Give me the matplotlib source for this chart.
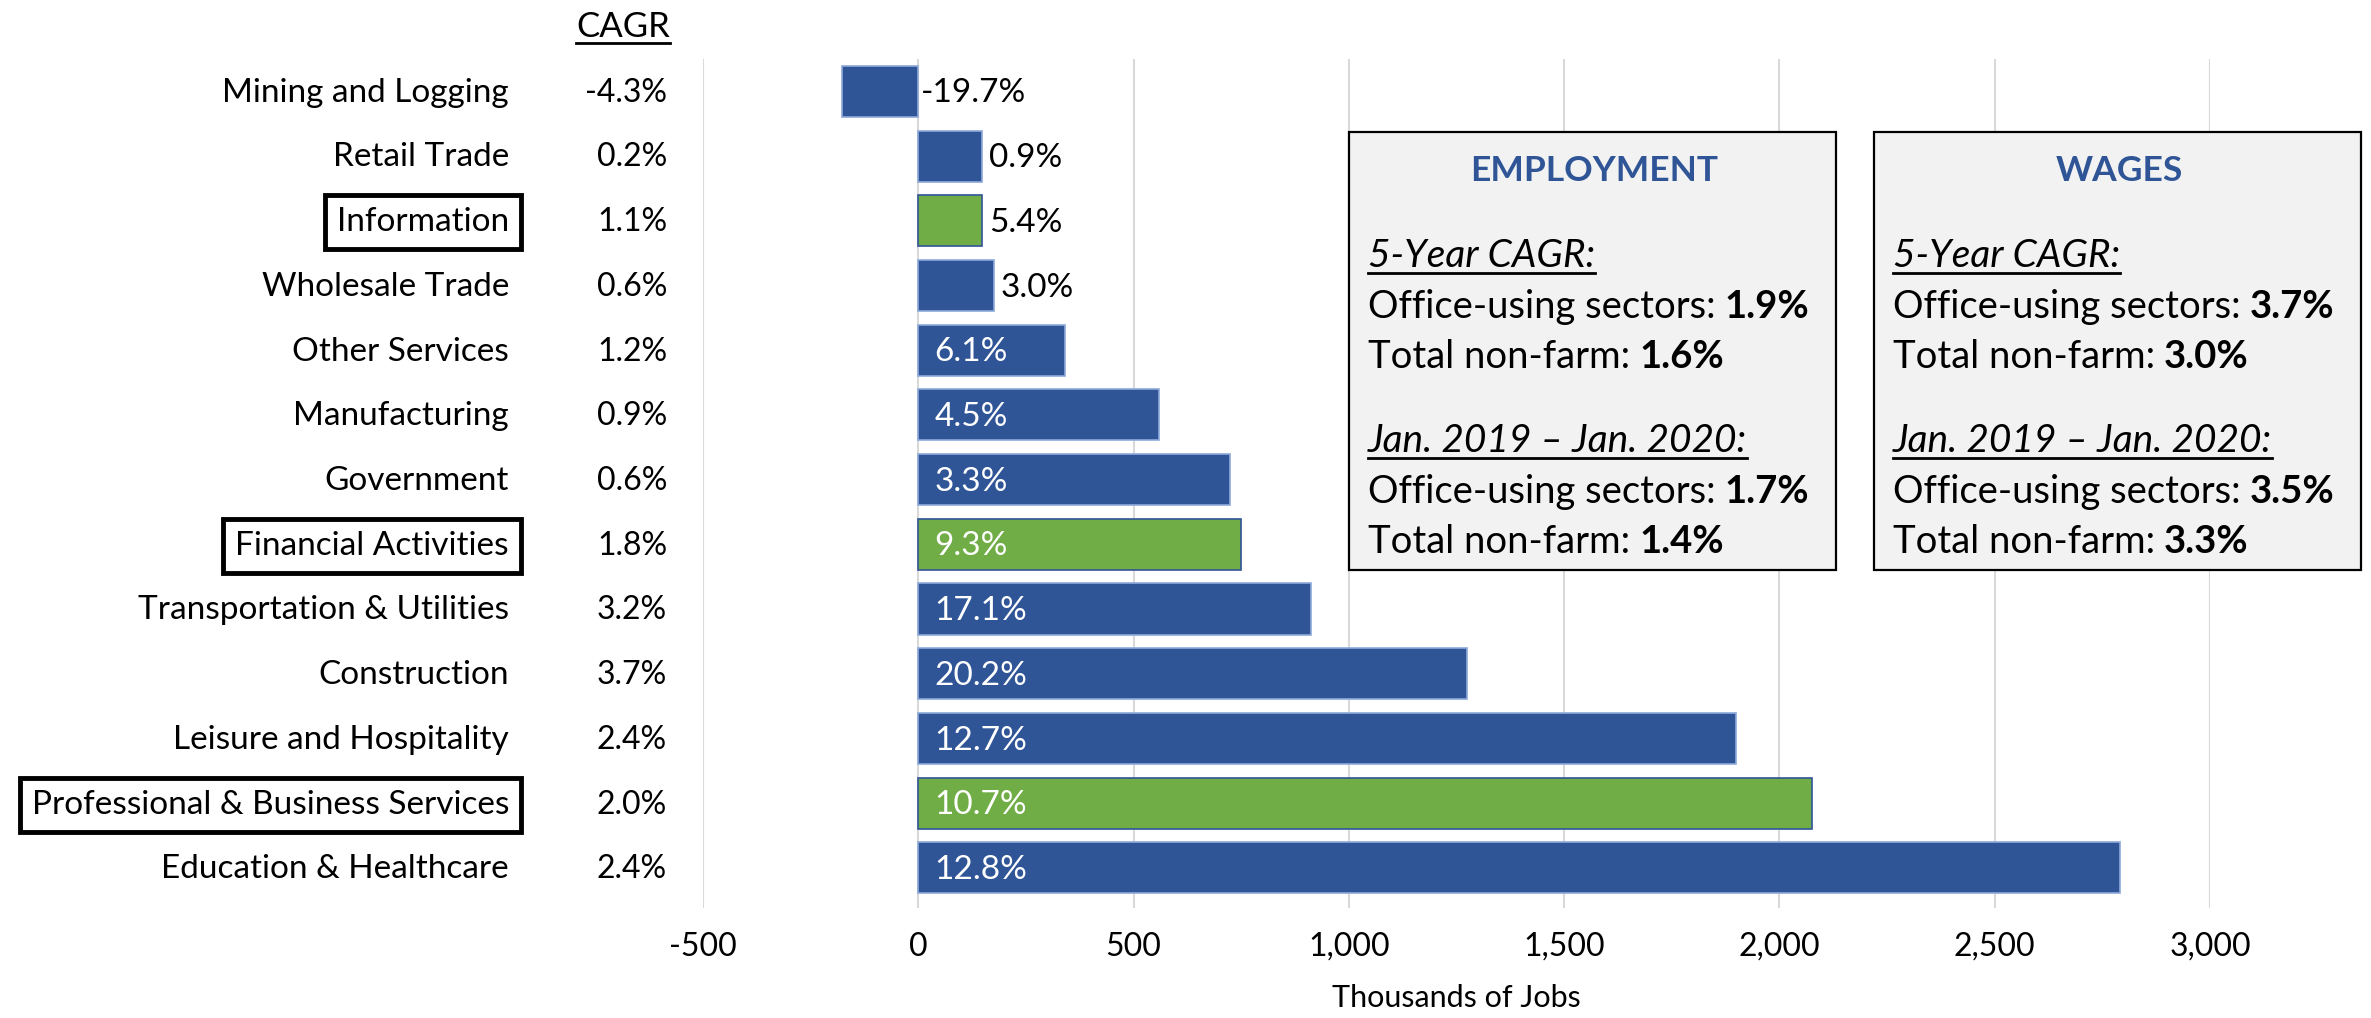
import matplotlib.pyplot as plt
from matplotlib.patches import Rectangle
from matplotlib.lines import Line2D
from matplotlib.ticker import FuncFormatter
from matplotlib.transforms import blended_transform_factory, offset_copy

# data, top row first
sectors = ['Mining and Logging', 'Retail Trade', 'Information', 'Wholesale Trade',
           'Other Services', 'Manufacturing', 'Government', 'Financial Activities',
           'Transportation & Utilities', 'Construction', 'Leisure and Hospitality',
           'Professional & Business Services', 'Education & Healthcare']
jobs_added = [-178, 148, 149, 176, 341, 560, 724, 749, 913, 1275, 1900, 2075, 2791]
pct_change = ['-19.7%', '0.9%', '5.4%', '3.0%', '6.1%', '4.5%', '3.3%', '9.3%',
              '17.1%', '20.2%', '12.7%', '10.7%', '12.8%']
cagr = ['-4.3%', '0.2%', '1.1%', '0.6%', '1.2%', '0.9%', '0.6%', '1.8%',
        '3.2%', '3.7%', '2.4%', '2.0%', '2.4%']
office_using = ['Information', 'Financial Activities', 'Professional & Business Services']

x_ticks = list(range(-500, 3001, 500))

boxes = {
    'EMPLOYMENT': [('1.9%', '1.6%'), ('1.7%', '1.4%')],
    'WAGES': [('3.7%', '3.0%'), ('3.5%', '3.3%')],
}

BLUE = '#2F5597'
GREEN = '#70AD47'

plt.rcParams['font.family'] = ['Lato', 'DejaVu Sans']

W, H = 2371, 1018
fig = plt.figure(figsize=(W / 100, H / 100), dpi=100)
fig.patch.set_facecolor('white')


def fx(px):
    return px / W


def fy(px):
    # pixel rows from the top -> figure fraction
    return 1 - px / H


ax = fig.add_axes([fx(703), fy(908), fx(2210 - 703), (908 - 59) / H])

ypos = list(range(len(sectors)))
colors = [GREEN if s in office_using else BLUE for s in sectors]
edges = [BLUE if s in office_using else '#8EA9DB' for s in sectors]
ax.barh(ypos, jobs_added, height=0.79, color=colors, edgecolor=edges,
        linewidth=1.2, zorder=3)

ax.set_xlim(-500, 3000)
ax.set_ylim(12.62, -0.5)
ax.set_xticks(x_ticks)
ax.xaxis.set_major_formatter(FuncFormatter(lambda v, p: f'{v:,.0f}'))
ax.set_yticks([])
ax.grid(axis='x', color='#D9D9D9', linewidth=1.5, zorder=0)
ax.set_axisbelow(True)
for sp in ax.spines.values():
    sp.set_visible(False)
ax.tick_params(axis='x', length=0, pad=17, labelsize=23)
ax.set_xlabel('Thousands of Jobs', fontsize=22)
ax.xaxis.set_label_coords(0.5, -0.09)

# bar value labels
for i, (v, lbl) in enumerate(zip(jobs_added, pct_change)):
    if v > 300:
        x, dx, col = 0, 11.5, 'white'
    elif v < 0:
        x, dx, col = 0, 2, 'black'
    else:
        x, dx, col = v, 5, 'black'
    ax.annotate(lbl, xy=(x, i), xytext=(dx, -8), textcoords='offset points',
                ha='left', va='baseline', fontsize=24, color=col, zorder=4)

# category names and CAGR column to the left of the axes
trans = blended_transform_factory(fig.transFigure, ax.transData)
tb = offset_copy(trans, fig=fig, y=-7.5, units='points')
for i, (name, c) in enumerate(zip(sectors, cagr)):
    kw = {}
    if name in office_using:
        kw['bbox'] = dict(boxstyle='square,pad=0.36', fc='white', ec='black', lw=3.5)
    ax.text(fx(509), i, name, transform=tb, ha='right', va='baseline',
            fontsize=24, clip_on=False, **kw)
    ax.text(fx(667), i, c, transform=tb, ha='right', va='baseline',
            fontsize=23, clip_on=False)

cagr_head = fig.text(fx(670), fy(37), 'CAGR', ha='right', va='baseline', fontsize=25)

# summary boxes
underlined = [(cagr_head, 37)]
bold_parts = []
for (title, rows), x0 in zip(boxes.items(), [1349, 1874]):
    fig.add_artist(Rectangle((fx(x0), fy(570)), fx(487), (570 - 132) / H,
                             transform=fig.transFigure, fc='#F2F2F2', ec='black',
                             lw=1.6, zorder=5))
    fig.text(fx(x0 + 245), fy(181), title, ha='center', va='baseline', fontsize=25.5,
             fontweight='bold', color=BLUE, zorder=6)
    tx = x0 + 19
    for (office, total), head, base in zip(rows, ['5-Year CAGR:', 'Jan. 2019 \u2013 Jan. 2020:'],
                                            [267, 452]):
        h = fig.text(fx(tx), fy(base), head, ha='left', va='baseline', fontsize=28,
                     style='italic', zorder=6)
        underlined.append((h, base))
        t1 = fig.text(fx(tx), fy(base + 51), 'Office-using sectors:', ha='left',
                      va='baseline', fontsize=27.5, zorder=6)
        t2 = fig.text(fx(tx), fy(base + 101), 'Total non-farm:', ha='left',
                      va='baseline', fontsize=27.5, zorder=6)
        bold_parts.append((t1, office, base + 51))
        bold_parts.append((t2, total, base + 101))

fig.canvas.draw()
r = fig.canvas.get_renderer()
for t, val, base in bold_parts:
    bb = t.get_window_extent(r)
    fig.text((bb.x1 + 9) / W, fy(base), val, ha='left', va='baseline', fontsize=27.5,
             fontweight='bold', zorder=6)
for t, base in underlined:
    bb = t.get_window_extent(r)
    fig.add_artist(Line2D([bb.x0 / W, bb.x1 / W], [fy(base + 6)] * 2,
                          transform=fig.transFigure, color='black', lw=2, zorder=6))

fig.savefig('out.png', dpi=100, facecolor='white')
